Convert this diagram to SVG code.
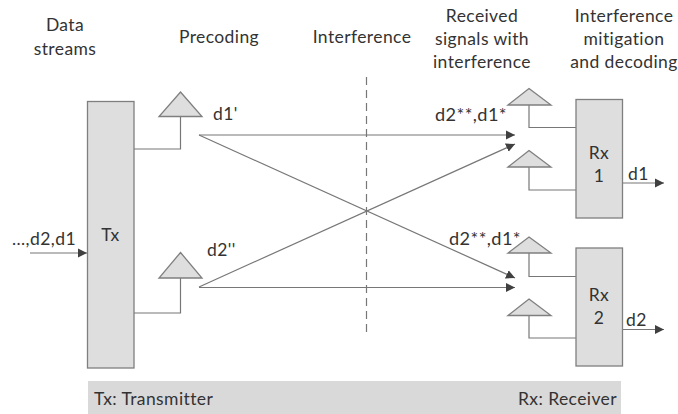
<svg xmlns="http://www.w3.org/2000/svg" width="678" height="414" viewBox="0 0 678 414">
<style>
text{font-family:"Lato","Open Sans",sans-serif;font-size:17.5px;letter-spacing:.4px;fill:#333}
.m{text-anchor:middle}
.box,.tri{fill:#dedede;stroke:#7f7f7f;stroke-width:1.3}
.ln{fill:none;stroke:#777;stroke-width:1.2}
.arr{fill:none;stroke:#777;stroke-width:1.2;marker-end:url(#a)}
</style>
<defs>
<marker id="a" markerUnits="userSpaceOnUse" markerWidth="10" markerHeight="10" refX="9" refY="5" orient="auto"><path d="M0,0.5 L9,5 L0,9.5 Z" fill="#404040"/></marker>
</defs>
<rect id="legend" x="88" y="381" width="533" height="33" fill="#d9d9d9"/>
<g id="connectors">
<path class="ln" stroke-dasharray="8 5" d="M366.5,77V337"/>
<path class="arr" d="M30,253H87"/>
<path class="ln" d="M134,149H180.500V116.500"/>
<path class="ln" d="M134,313H180.500V278"/>
<path class="arr" d="M199,135H515"/>
<path class="arr" d="M199,135L515,278"/>
<path class="arr" d="M199,287L515,144"/>
<path class="arr" d="M199,287.500H515"/>
<path class="ln" d="M529,105V127.500H576"/>
<path class="ln" d="M529,167V190H576"/>
<path class="ln" d="M529,253V276.500H576"/>
<path class="ln" d="M529,315.500V338H576"/>
<path class="arr" d="M622,183H664"/>
<path class="arr" d="M622,329.500H664"/>
</g>
<g id="tx"><rect class="box" x="87.500" y="101.500" width="46.500" height="266.500"/><text class="m" x="110.500" y="241">Tx</text></g>
<g id="tx-ant1"><path class="tri" d="M180.500,92L202,116.500H159Z"/></g>
<g id="tx-ant2"><path class="tri" d="M180.500,252.500L202,278H159Z"/></g>
<g id="rx1"><rect class="box" x="576" y="99.500" width="46.500" height="118.500"/><text class="m" x="599" y="159">Rx</text><text class="m" x="599" y="182">1</text></g>
<g id="rx2"><rect class="box" x="576" y="248" width="46.500" height="118"/><text class="m" x="599" y="301">Rx</text><text class="m" x="599" y="324">2</text></g>
<g id="rx1-ant1"><path class="tri" d="M529,88.500L551,105H508Z"/></g>
<g id="rx1-ant2"><path class="tri" d="M529,150.500L551,167H508Z"/></g>
<g id="rx2-ant1"><path class="tri" d="M529,237L551,253H508Z"/></g>
<g id="rx2-ant2"><path class="tri" d="M529,299L551,315.500H508Z"/></g>
<g id="labels">
<text class="m" x="65" y="31">Data</text>
<text class="m" x="65" y="54.500">streams</text>
<text class="m" x="219" y="43">Precoding</text>
<text class="m" x="362" y="43">Interference</text>
<text class="m" x="482" y="22">Received</text>
<text class="m" x="482" y="45">signals with</text>
<text class="m" x="482" y="68">interference</text>
<text class="m" x="624" y="22">Interference</text>
<text class="m" x="624" y="45">mitigation</text>
<text class="m" x="624" y="68">and decoding</text>
<text x="213" y="120">d1'</text>
<text x="207" y="256">d2''</text>
<text x="435" y="121" textLength="72" lengthAdjust="spacingAndGlyphs">d2**,d1*</text>
<text x="449" y="245" textLength="72" lengthAdjust="spacingAndGlyphs">d2**,d1*</text>
<text x="12" y="245" textLength="64" lengthAdjust="spacingAndGlyphs">...,d2,d1</text>
<text x="628" y="180">d1</text>
<text x="626" y="326">d2</text>
<text x="94" y="405">Tx: Transmitter</text>
<text x="518" y="405">Rx: Receiver</text>
</g>
</svg>
